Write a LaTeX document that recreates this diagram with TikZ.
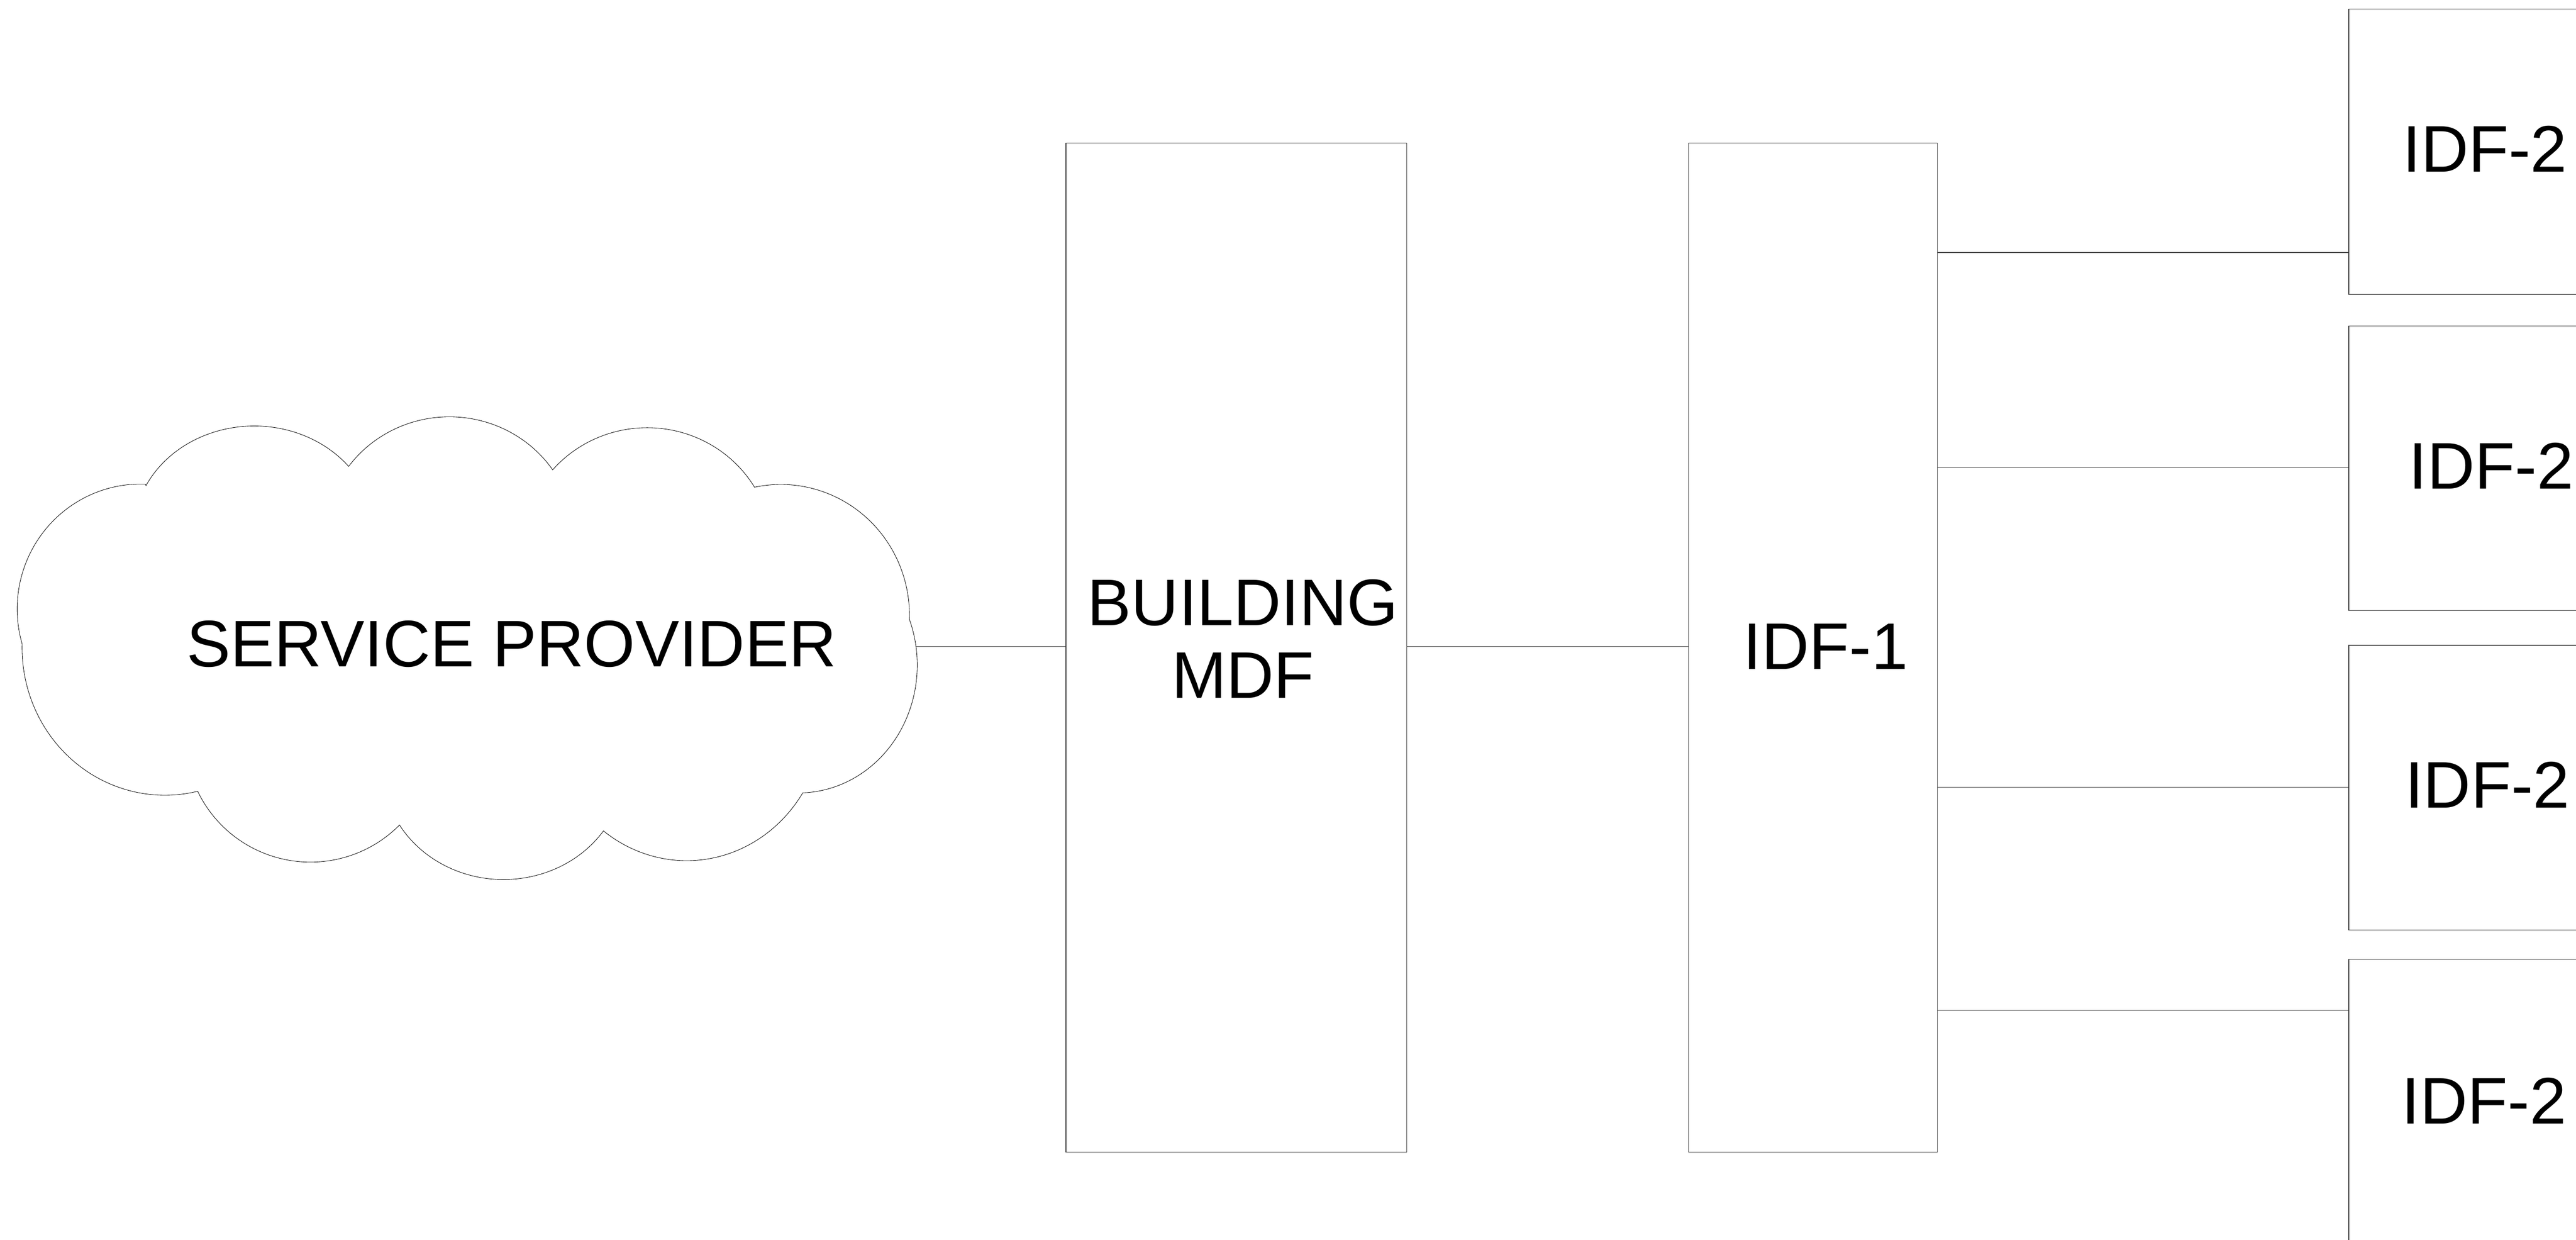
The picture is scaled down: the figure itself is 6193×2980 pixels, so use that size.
\documentclass[tikz,border=0pt]{standalone}
\usepackage{fontspec}
\setmainfont{Liberation Sans}
\begin{document}
\begin{tikzpicture}[x=0.01cm,y=0.01cm,
  box/.style={draw=black!75, line width=0.45pt, inner sep=0pt, anchor=north west},
  lbl/.style={font=\fontsize{45}{49.5}\selectfont, inner sep=0pt, align=center, text=black},
  link/.style={draw=black!75, line width=0.45pt},
  cloudline/.style={draw=black, line width=0.3pt}]
\fill[white] (0,0) rectangle (6193,-2980);
\useasboundingbox (0,0) rectangle (6193,-2980);

% cloud
\draw[cloudline] (351,-1167)
  arc[start angle=153.7, end angle=38.5, x radius=2.90cm, y radius=2.57cm]
  arc[start angle=143.8, end angle=34.2, x radius=3.00cm, y radius=2.91cm]
  arc[start angle=139.2, end angle=30.7, x radius=3.00cm, y radius=2.92cm]
  arc[start angle=101.8, end angle=-1.8, x radius=3.09cm, y radius=3.14cm]
  arc[start angle=21, end angle=-88, x radius=2.85cm, y radius=3.07cm]
  arc[start angle=-32.3, end angle=-127.3, x radius=3.30cm, y radius=3.50cm]
  arc[start angle=-34.1, end angle=-149.5, x radius=2.90cm, y radius=2.66cm]
  arc[start angle=-44.5, end angle=-154.6, x radius=3.00cm, y radius=2.98cm]
  arc[start angle=-76.7, end angle=-181.5, x radius=3.43cm, y radius=3.54cm]
  arc[start angle=196.3, end angle=87.9, x radius=2.97cm, y radius=3.00cm]
  -- cycle;
\coordinate (cloudR) at (2201,-1554);
\node[lbl] (sptext) at (1230,-1548) {SERVICE PROVIDER};

% boxes
\node[box, minimum width=8.19cm, minimum height=24.24cm] (mdf) at (2562,-343) {};
\node[box, minimum width=5.98cm, minimum height=24.24cm] (idf1) at (4059,-343) {};
\node[box, minimum width=6.60cm, minimum height=6.85cm] (idfa) at (5646,-21) {};
\node[box, minimum width=6.60cm, minimum height=6.83cm] (idfb) at (5646,-783) {};
\node[box, minimum width=6.60cm, minimum height=6.84cm] (idfc) at (5646,-1550) {};
\node[box, minimum width=6.60cm, minimum height=6.85cm] (idfd) at (5646,-2305) {};

% labels
\node[lbl] (mdftext) at (2988,-1535) {BUILDING\\MDF};
\node[lbl] (idf1text) at (4389,-1554) {IDF-1};
\node[lbl] (idfatext) at (5974,-358) {IDF-2};
\node[lbl] (idfbtext) at (5989,-1120) {IDF-2};
\node[lbl] (idfctext) at (5980,-1886) {IDF-2};
\node[lbl] (idfdtext) at (5972,-2646) {IDF-2};

% connectors
\draw[link] (cloudR) -- (cloudR -| mdf.west);
\draw[link] (mdf.east |- cloudR) -- (idf1.west |- cloudR);
\draw[link] (idf1.east |- 0,-607) -- (idfa.west |- 0,-607);
\draw[link] (idf1.east |- 0,-1124) -- (idfb.west |- 0,-1124);
\draw[link] (idf1.east |- 0,-1892) -- (idfc.west |- 0,-1892);
\draw[link] (idf1.east |- 0,-2428) -- (idfd.west |- 0,-2428);
\end{tikzpicture}
\end{document}
